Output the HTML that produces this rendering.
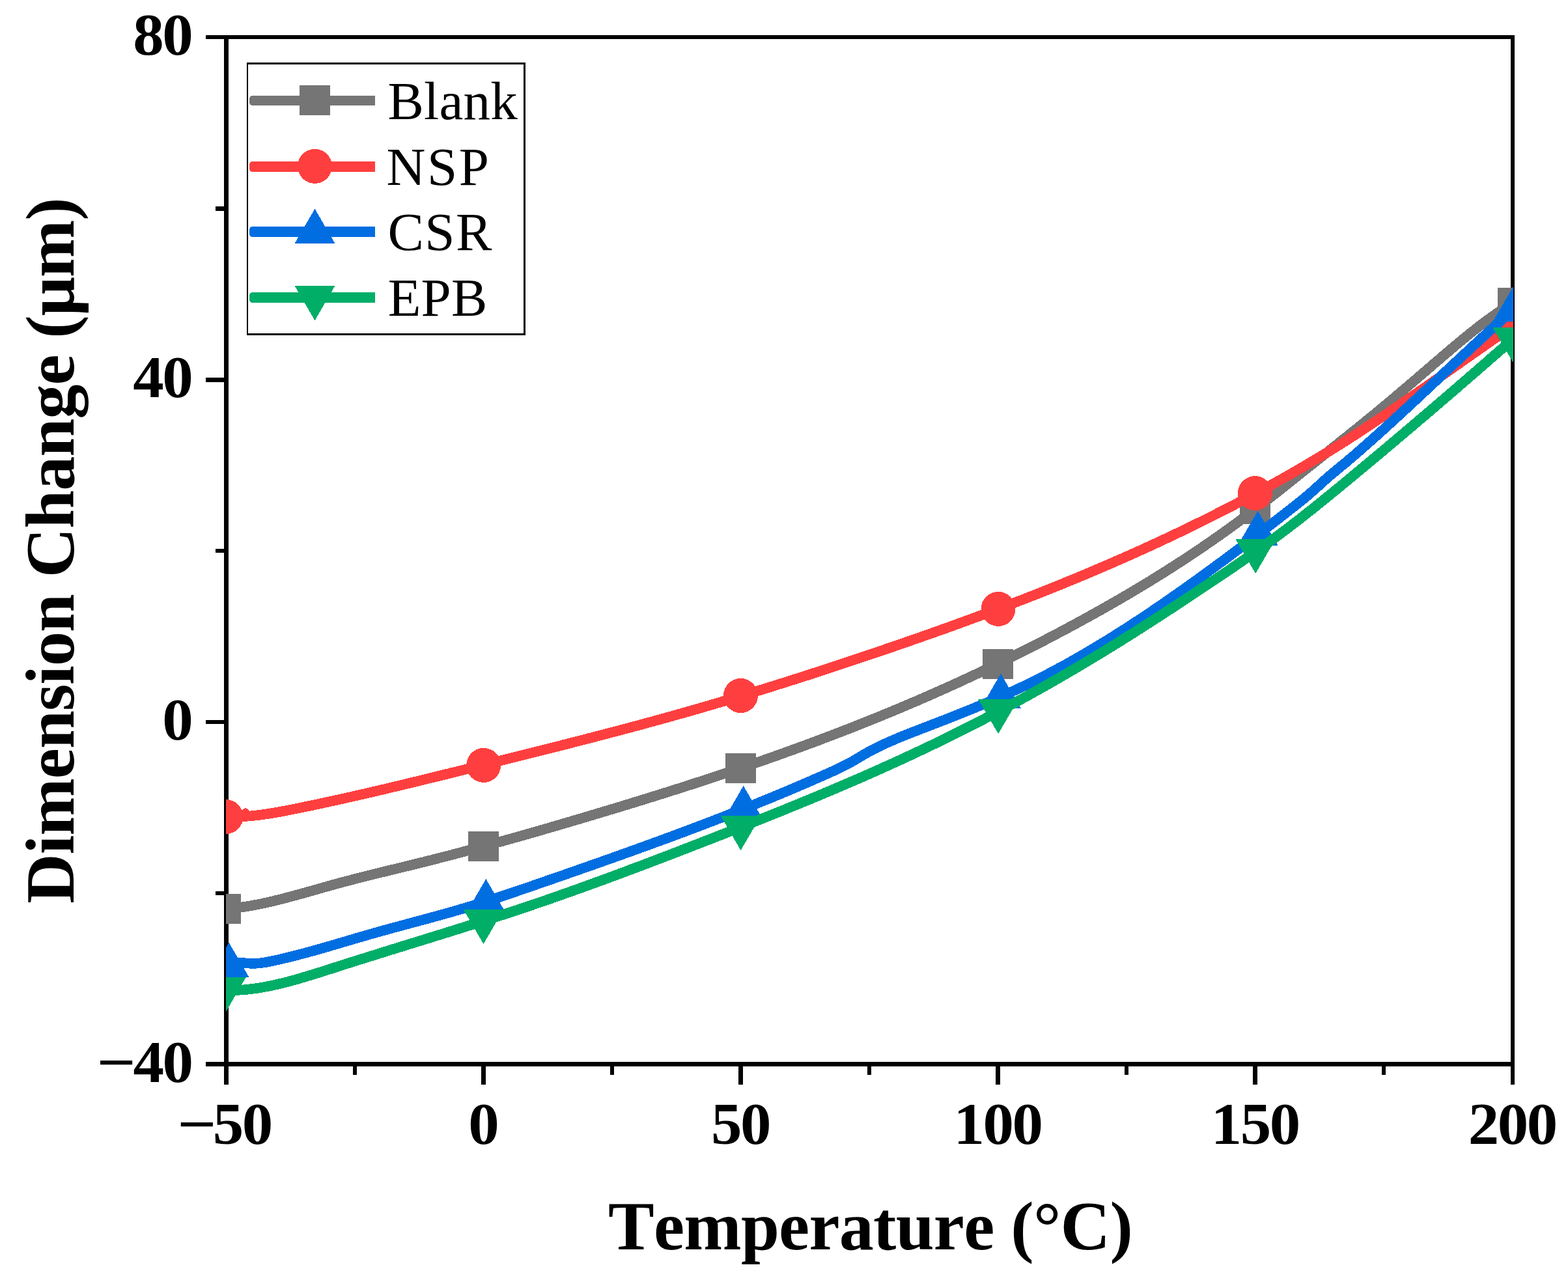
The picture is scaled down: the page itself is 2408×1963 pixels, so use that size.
<!DOCTYPE html>
<html lang="en"><head><meta charset="utf-8"><title>Dimension Change vs Temperature</title>
<style>
html,body{margin:0;padding:0;background:#fff;}
body{width:2408px;height:1963px;overflow:hidden;}
svg{display:block;}
text{font-family:"Liberation Serif","DejaVu Serif",serif;fill:#000;font-kerning:none;}
.tk{font-weight:bold;font-size:90px;}
.ti{font-weight:bold;font-size:106px;}
.lg{font-size:83px;}
</style></head><body>
<svg width="2408" height="1963" viewBox="0 0 2408 1963" shape-rendering="crispEdges">
<rect width="2408" height="1963" fill="#fff"/>
<defs><clipPath id="plot"><rect x="347.0" y="57.0" width="1977.0" height="1577.5"/></clipPath></defs>
<g fill="#000">
<path d="M344 54H2326V1638H344Z M351 60V1631H2320V60Z" fill-rule="evenodd"/>
<rect x="316" y="54" width="28" height="6"/>
<rect x="316" y="580" width="28" height="7"/>
<rect x="316" y="1106" width="28" height="6"/>
<rect x="316" y="1631" width="28" height="7"/>
<rect x="331" y="317" width="13" height="7"/>
<rect x="331" y="843" width="13" height="6"/>
<rect x="331" y="1369" width="13" height="6"/>
<rect x="344" y="1638" width="7" height="28"/>
<rect x="739" y="1638" width="7" height="28"/>
<rect x="1134" y="1638" width="7" height="28"/>
<rect x="1529" y="1638" width="7" height="28"/>
<rect x="1924" y="1638" width="7" height="28"/>
<rect x="2320" y="1638" width="6" height="28"/>
<rect x="542" y="1638" width="6" height="13"/>
<rect x="937" y="1638" width="6" height="13"/>
<rect x="1332" y="1638" width="6" height="13"/>
<rect x="1727" y="1638" width="6" height="13"/>
<rect x="2122" y="1638" width="6" height="13"/>
</g>
<g clip-path="url(#plot)">
<path d="M347.0 1396.2 L350.0 1395.9 L353.0 1395.7 L356.0 1395.4 L359.0 1395.0 L362.0 1394.7 L365.0 1394.3 L368.0 1393.9 L371.0 1393.5 L374.0 1393.0 L377.0 1392.6 L380.0 1392.1 L383.0 1391.6 L386.0 1391.1 L389.0 1390.5 L392.0 1390.0 L395.0 1389.4 L398.0 1388.8 L401.0 1388.2 L404.0 1387.5 L407.0 1386.9 L410.0 1386.2 L413.0 1385.6 L416.0 1384.9 L419.0 1384.2 L422.0 1383.4 L425.0 1382.7 L428.0 1382.0 L431.0 1381.2 L434.0 1380.5 L437.0 1379.7 L440.0 1378.9 L443.0 1378.1 L446.0 1377.3 L449.0 1376.5 L452.0 1375.7 L455.0 1374.9 L458.0 1374.1 L461.0 1373.3 L464.0 1372.4 L467.0 1371.6 L470.0 1370.7 L473.0 1369.9 L476.0 1369.1 L479.0 1368.2 L482.0 1367.4 L485.0 1366.5 L488.0 1365.7 L491.0 1364.8 L494.0 1364.0 L497.0 1363.1 L500.0 1362.3 L503.0 1361.4 L506.0 1360.6 L509.0 1359.7 L512.0 1358.9 L515.0 1358.1 L518.0 1357.3 L521.0 1356.5 L524.0 1355.6 L527.0 1354.8 L530.0 1354.0 L533.0 1353.2 L536.0 1352.5 L539.0 1351.7 L542.0 1350.9 L545.0 1350.1 L548.0 1349.3 L551.0 1348.6 L554.0 1347.8 L557.0 1347.1 L560.0 1346.3 L563.0 1345.5 L566.0 1344.8 L569.0 1344.0 L572.0 1343.3 L575.0 1342.6 L578.0 1341.8 L581.0 1341.1 L584.0 1340.3 L587.0 1339.6 L590.0 1338.9 L593.0 1338.1 L596.0 1337.4 L599.0 1336.7 L602.0 1335.9 L605.0 1335.2 L608.0 1334.5 L611.0 1333.7 L614.0 1333.0 L617.0 1332.3 L620.0 1331.6 L623.0 1330.8 L626.0 1330.1 L629.0 1329.4 L632.0 1328.6 L635.0 1327.9 L638.0 1327.1 L641.0 1326.4 L644.0 1325.7 L647.0 1324.9 L650.0 1324.2 L653.0 1323.4 L656.0 1322.7 L659.0 1321.9 L662.0 1321.2 L665.0 1320.4 L668.0 1319.6 L671.0 1318.9 L674.0 1318.1 L677.0 1317.3 L680.0 1316.6 L683.0 1315.8 L686.0 1315.0 L689.0 1314.2 L692.0 1313.5 L695.0 1312.7 L698.0 1311.9 L701.0 1311.1 L704.0 1310.3 L707.0 1309.5 L710.0 1308.7 L713.0 1307.9 L716.0 1307.1 L719.0 1306.3 L722.0 1305.5 L725.0 1304.7 L728.0 1303.9 L731.0 1303.1 L734.0 1302.3 L737.0 1301.5 L740.0 1300.7 L743.0 1299.9 L746.0 1299.0 L749.0 1298.2 L752.0 1297.4 L755.0 1296.6 L758.0 1295.7 L761.0 1294.9 L764.0 1294.1 L767.0 1293.3 L770.0 1292.4 L773.0 1291.6 L776.0 1290.8 L779.0 1289.9 L782.0 1289.1 L785.0 1288.2 L788.0 1287.4 L791.0 1286.5 L794.0 1285.7 L797.0 1284.9 L800.0 1284.0 L803.0 1283.2 L806.0 1282.3 L809.0 1281.4 L812.0 1280.6 L815.0 1279.7 L818.0 1278.9 L821.0 1278.0 L824.0 1277.2 L827.0 1276.3 L830.0 1275.4 L833.0 1274.6 L836.0 1273.7 L839.0 1272.8 L842.0 1272.0 L845.0 1271.1 L848.0 1270.2 L851.0 1269.3 L854.0 1268.5 L857.0 1267.6 L860.0 1266.7 L863.0 1265.8 L866.0 1264.9 L869.0 1264.1 L872.0 1263.2 L875.0 1262.3 L878.0 1261.4 L881.0 1260.5 L884.0 1259.6 L887.0 1258.8 L890.0 1257.9 L893.0 1257.0 L896.0 1256.1 L899.0 1255.2 L902.0 1254.3 L905.0 1253.4 L908.0 1252.5 L911.0 1251.6 L914.0 1250.7 L917.0 1249.8 L920.0 1248.9 L923.0 1248.0 L926.0 1247.1 L929.0 1246.2 L932.0 1245.3 L935.0 1244.4 L938.0 1243.5 L941.0 1242.6 L944.0 1241.7 L947.0 1240.8 L950.0 1239.9 L953.0 1238.9 L956.0 1238.0 L959.0 1237.1 L962.0 1236.2 L965.0 1235.3 L968.0 1234.4 L971.0 1233.5 L974.0 1232.5 L977.0 1231.6 L980.0 1230.7 L983.0 1229.8 L986.0 1228.8 L989.0 1227.9 L992.0 1227.0 L995.0 1226.0 L998.0 1225.1 L1001.0 1224.2 L1004.0 1223.2 L1007.0 1222.3 L1010.0 1221.4 L1013.0 1220.4 L1016.0 1219.5 L1019.0 1218.5 L1022.0 1217.6 L1025.0 1216.6 L1028.0 1215.7 L1031.0 1214.7 L1034.0 1213.8 L1037.0 1212.8 L1040.0 1211.9 L1043.0 1210.9 L1046.0 1210.0 L1049.0 1209.0 L1052.0 1208.0 L1055.0 1207.1 L1058.0 1206.1 L1061.0 1205.2 L1064.0 1204.2 L1067.0 1203.2 L1070.0 1202.2 L1073.0 1201.3 L1076.0 1200.3 L1079.0 1199.3 L1082.0 1198.3 L1085.0 1197.3 L1088.0 1196.4 L1091.0 1195.4 L1094.0 1194.4 L1097.0 1193.4 L1100.0 1192.4 L1103.0 1191.4 L1106.0 1190.4 L1109.0 1189.4 L1112.0 1188.4 L1115.0 1187.4 L1118.0 1186.4 L1121.0 1185.4 L1124.0 1184.4 L1127.0 1183.4 L1130.0 1182.3 L1133.0 1181.3 L1136.0 1180.3 L1139.0 1179.3 L1142.0 1178.3 L1145.0 1177.2 L1148.0 1176.2 L1151.0 1175.2 L1154.0 1174.2 L1157.0 1173.1 L1160.0 1172.1 L1163.0 1171.0 L1166.0 1170.0 L1169.0 1169.0 L1172.0 1167.9 L1175.0 1166.9 L1178.0 1165.8 L1181.0 1164.7 L1184.0 1163.7 L1187.0 1162.6 L1190.0 1161.6 L1193.0 1160.5 L1196.0 1159.4 L1199.0 1158.4 L1202.0 1157.3 L1205.0 1156.2 L1208.0 1155.1 L1211.0 1154.1 L1214.0 1153.0 L1217.0 1151.9 L1220.0 1150.8 L1223.0 1149.7 L1226.0 1148.6 L1229.0 1147.5 L1232.0 1146.4 L1235.0 1145.3 L1238.0 1144.2 L1241.0 1143.1 L1244.0 1142.0 L1247.0 1140.9 L1250.0 1139.8 L1253.0 1138.7 L1256.0 1137.5 L1259.0 1136.4 L1262.0 1135.3 L1265.0 1134.1 L1268.0 1133.0 L1271.0 1131.9 L1274.0 1130.7 L1277.0 1129.6 L1280.0 1128.4 L1283.0 1127.3 L1286.0 1126.1 L1289.0 1125.0 L1292.0 1123.8 L1295.0 1122.7 L1298.0 1121.5 L1301.0 1120.3 L1304.0 1119.2 L1307.0 1118.0 L1310.0 1116.8 L1313.0 1115.6 L1316.0 1114.5 L1319.0 1113.3 L1322.0 1112.1 L1325.0 1110.9 L1328.0 1109.7 L1331.0 1108.5 L1334.0 1107.3 L1337.0 1106.1 L1340.0 1104.9 L1343.0 1103.7 L1346.0 1102.4 L1349.0 1101.2 L1352.0 1100.0 L1355.0 1098.8 L1358.0 1097.5 L1361.0 1096.3 L1364.0 1095.1 L1367.0 1093.8 L1370.0 1092.6 L1373.0 1091.3 L1376.0 1090.1 L1379.0 1088.8 L1382.0 1087.6 L1385.0 1086.3 L1388.0 1085.0 L1391.0 1083.8 L1394.0 1082.5 L1397.0 1081.2 L1400.0 1079.9 L1403.0 1078.7 L1406.0 1077.4 L1409.0 1076.1 L1412.0 1074.8 L1415.0 1073.5 L1418.0 1072.2 L1421.0 1070.9 L1424.0 1069.6 L1427.0 1068.2 L1430.0 1066.9 L1433.0 1065.6 L1436.0 1064.3 L1439.0 1062.9 L1442.0 1061.6 L1445.0 1060.3 L1448.0 1058.9 L1451.0 1057.6 L1454.0 1056.2 L1457.0 1054.9 L1460.0 1053.5 L1463.0 1052.2 L1466.0 1050.8 L1469.0 1049.4 L1472.0 1048.1 L1475.0 1046.7 L1478.0 1045.3 L1481.0 1043.9 L1484.0 1042.5 L1487.0 1041.1 L1490.0 1039.7 L1493.0 1038.3 L1496.0 1036.9 L1499.0 1035.5 L1502.0 1034.1 L1505.0 1032.7 L1508.0 1031.3 L1511.0 1029.8 L1514.0 1028.4 L1517.0 1027.0 L1520.0 1025.5 L1523.0 1024.1 L1526.0 1022.6 L1529.0 1021.2 L1532.0 1019.7 L1535.0 1018.3 L1538.0 1016.8 L1541.0 1015.3 L1544.0 1013.9 L1547.0 1012.4 L1550.0 1010.9 L1553.0 1009.4 L1556.0 1007.9 L1559.0 1006.4 L1562.0 1004.9 L1565.0 1003.4 L1568.0 1001.9 L1571.0 1000.4 L1574.0 998.9 L1577.0 997.4 L1580.0 995.9 L1583.0 994.4 L1586.0 992.8 L1589.0 991.3 L1592.0 989.7 L1595.0 988.2 L1598.0 986.7 L1601.0 985.1 L1604.0 983.6 L1607.0 982.0 L1610.0 980.4 L1613.0 978.9 L1616.0 977.3 L1619.0 975.7 L1622.0 974.1 L1625.0 972.5 L1628.0 971.0 L1631.0 969.4 L1634.0 967.8 L1637.0 966.2 L1640.0 964.6 L1643.0 962.9 L1646.0 961.3 L1649.0 959.7 L1652.0 958.1 L1655.0 956.5 L1658.0 954.8 L1661.0 953.2 L1664.0 951.5 L1667.0 949.9 L1670.0 948.2 L1673.0 946.6 L1676.0 944.9 L1679.0 943.3 L1682.0 941.6 L1685.0 939.9 L1688.0 938.2 L1691.0 936.6 L1694.0 934.9 L1697.0 933.2 L1700.0 931.5 L1703.0 929.8 L1706.0 928.0 L1709.0 926.3 L1712.0 924.6 L1715.0 922.9 L1718.0 921.1 L1721.0 919.4 L1724.0 917.7 L1727.0 915.9 L1730.0 914.1 L1733.0 912.4 L1736.0 910.6 L1739.0 908.8 L1742.0 907.0 L1745.0 905.3 L1748.0 903.5 L1751.0 901.7 L1754.0 899.9 L1757.0 898.0 L1760.0 896.2 L1763.0 894.4 L1766.0 892.6 L1769.0 890.7 L1772.0 888.9 L1775.0 887.0 L1778.0 885.1 L1781.0 883.3 L1784.0 881.4 L1787.0 879.5 L1790.0 877.6 L1793.0 875.7 L1796.0 873.8 L1799.0 871.9 L1802.0 870.0 L1805.0 868.1 L1808.0 866.1 L1811.0 864.2 L1814.0 862.2 L1817.0 860.3 L1820.0 858.3 L1823.0 856.3 L1826.0 854.4 L1829.0 852.4 L1832.0 850.4 L1835.0 848.4 L1838.0 846.3 L1841.0 844.3 L1844.0 842.3 L1847.0 840.2 L1850.0 838.2 L1853.0 836.1 L1856.0 834.1 L1859.0 832.0 L1862.0 829.9 L1865.0 827.8 L1868.0 825.7 L1871.0 823.6 L1874.0 821.5 L1877.0 819.4 L1880.0 817.2 L1883.0 815.1 L1886.0 812.9 L1889.0 810.8 L1892.0 808.6 L1895.0 806.4 L1898.0 804.2 L1901.0 802.0 L1904.0 799.8 L1907.0 797.6 L1910.0 795.4 L1913.0 793.1 L1916.0 790.9 L1919.0 788.6 L1922.0 786.4 L1925.0 784.1 L1928.0 781.8 L1931.0 779.5 L1934.0 777.2 L1937.0 774.9 L1940.0 772.6 L1943.0 770.3 L1946.0 767.9 L1949.0 765.6 L1952.0 763.2 L1955.0 760.9 L1958.0 758.5 L1961.0 756.2 L1964.0 753.8 L1967.0 751.4 L1970.0 749.0 L1973.0 746.6 L1976.0 744.3 L1979.0 741.9 L1982.0 739.5 L1985.0 737.1 L1988.0 734.7 L1991.0 732.3 L1994.0 729.9 L1997.0 727.5 L2000.0 725.1 L2003.0 722.7 L2006.0 720.3 L2009.0 717.9 L2012.0 715.6 L2015.0 713.2 L2018.0 710.8 L2021.0 708.4 L2024.0 706.0 L2027.0 703.6 L2030.0 701.2 L2033.0 698.8 L2036.0 696.5 L2039.0 694.1 L2042.0 691.7 L2045.0 689.3 L2048.0 686.9 L2051.0 684.5 L2054.0 682.1 L2057.0 679.7 L2060.0 677.3 L2063.0 674.9 L2066.0 672.5 L2069.0 670.1 L2072.0 667.7 L2075.0 665.3 L2078.0 662.9 L2081.0 660.5 L2084.0 658.1 L2087.0 655.6 L2090.0 653.2 L2093.0 650.8 L2096.0 648.3 L2099.0 645.9 L2102.0 643.4 L2105.0 641.0 L2108.0 638.5 L2111.0 636.1 L2114.0 633.6 L2117.0 631.1 L2120.0 628.6 L2123.0 626.1 L2126.0 623.6 L2129.0 621.1 L2132.0 618.6 L2135.0 616.1 L2138.0 613.6 L2141.0 611.1 L2144.0 608.6 L2147.0 606.0 L2150.0 603.5 L2153.0 600.9 L2156.0 598.4 L2159.0 595.9 L2162.0 593.3 L2165.0 590.7 L2168.0 588.2 L2171.0 585.6 L2174.0 583.1 L2177.0 580.5 L2180.0 577.9 L2183.0 575.3 L2186.0 572.8 L2189.0 570.2 L2192.0 567.6 L2195.0 565.0 L2198.0 562.4 L2201.0 559.8 L2204.0 557.2 L2207.0 554.7 L2210.0 552.1 L2213.0 549.5 L2216.0 546.9 L2219.0 544.4 L2222.0 541.8 L2225.0 539.3 L2228.0 536.7 L2231.0 534.2 L2234.0 531.6 L2237.0 529.1 L2240.0 526.6 L2243.0 524.1 L2246.0 521.7 L2249.0 519.2 L2252.0 516.7 L2255.0 514.3 L2258.0 511.9 L2261.0 509.5 L2264.0 507.1 L2267.0 504.8 L2270.0 502.4 L2273.0 500.1 L2276.0 497.8 L2279.0 495.5 L2282.0 493.3 L2285.0 491.1 L2288.0 488.9 L2291.0 486.7 L2294.0 484.6 L2297.0 482.5 L2300.0 480.4 L2303.0 478.3 L2306.0 476.3 L2309.0 474.3 L2312.0 472.4 L2315.0 470.4 L2318.0 468.6 L2321.0 466.7 L2323.5 465.2" fill="none" stroke="#757575" stroke-width="15.6" stroke-linejoin="round" stroke-linecap="butt"/>
<g fill="#757575"><rect x="323" y="1373" width="47" height="46"/><rect x="719" y="1277" width="47" height="46"/><rect x="1114" y="1157" width="47" height="46"/><rect x="1509" y="997" width="47" height="46"/><rect x="1904" y="759" width="47" height="46"/><rect x="2300" y="442" width="47" height="46"/></g>
<path d="M347.0 1254.5 L350.0 1254.6 L353.0 1254.6 L356.0 1254.7 L359.0 1254.7 L362.0 1254.6 L365.0 1254.5 L368.0 1254.4 L371.0 1254.3 L374.0 1254.1 L377.0 1254.0 L380.0 1253.7 L383.0 1253.5 L386.0 1253.2 L389.0 1252.9 L392.0 1252.6 L395.0 1252.3 L398.0 1251.9 L401.0 1251.5 L404.0 1251.1 L407.0 1250.7 L410.0 1250.2 L413.0 1249.8 L416.0 1249.3 L419.0 1248.8 L422.0 1248.3 L425.0 1247.8 L428.0 1247.3 L431.0 1246.7 L434.0 1246.1 L437.0 1245.6 L440.0 1245.0 L443.0 1244.4 L446.0 1243.8 L449.0 1243.2 L452.0 1242.6 L455.0 1242.0 L458.0 1241.4 L461.0 1240.8 L464.0 1240.2 L467.0 1239.6 L470.0 1238.9 L473.0 1238.3 L476.0 1237.7 L479.0 1237.1 L482.0 1236.4 L485.0 1235.8 L488.0 1235.2 L491.0 1234.5 L494.0 1233.9 L497.0 1233.2 L500.0 1232.6 L503.0 1231.9 L506.0 1231.3 L509.0 1230.6 L512.0 1230.0 L515.0 1229.3 L518.0 1228.7 L521.0 1228.0 L524.0 1227.3 L527.0 1226.7 L530.0 1226.0 L533.0 1225.3 L536.0 1224.6 L539.0 1224.0 L542.0 1223.3 L545.0 1222.6 L548.0 1221.9 L551.0 1221.2 L554.0 1220.6 L557.0 1219.9 L560.0 1219.2 L563.0 1218.5 L566.0 1217.8 L569.0 1217.1 L572.0 1216.4 L575.0 1215.7 L578.0 1215.0 L581.0 1214.3 L584.0 1213.6 L587.0 1212.9 L590.0 1212.2 L593.0 1211.5 L596.0 1210.8 L599.0 1210.0 L602.0 1209.3 L605.0 1208.6 L608.0 1207.9 L611.0 1207.2 L614.0 1206.5 L617.0 1205.8 L620.0 1205.0 L623.0 1204.3 L626.0 1203.6 L629.0 1202.9 L632.0 1202.1 L635.0 1201.4 L638.0 1200.7 L641.0 1200.0 L644.0 1199.2 L647.0 1198.5 L650.0 1197.8 L653.0 1197.0 L656.0 1196.3 L659.0 1195.6 L662.0 1194.8 L665.0 1194.1 L668.0 1193.4 L671.0 1192.6 L674.0 1191.9 L677.0 1191.1 L680.0 1190.4 L683.0 1189.7 L686.0 1188.9 L689.0 1188.2 L692.0 1187.4 L695.0 1186.7 L698.0 1186.0 L701.0 1185.2 L704.0 1184.5 L707.0 1183.7 L710.0 1183.0 L713.0 1182.2 L716.0 1181.5 L719.0 1180.7 L722.0 1180.0 L725.0 1179.2 L728.0 1178.5 L731.0 1177.8 L734.0 1177.0 L737.0 1176.3 L740.0 1175.5 L743.0 1174.8 L746.0 1174.0 L749.0 1173.3 L752.0 1172.5 L755.0 1171.8 L758.0 1171.0 L761.0 1170.3 L764.0 1169.5 L767.0 1168.8 L770.0 1168.1 L773.0 1167.3 L776.0 1166.6 L779.0 1165.8 L782.0 1165.1 L785.0 1164.3 L788.0 1163.6 L791.0 1162.8 L794.0 1162.1 L797.0 1161.3 L800.0 1160.6 L803.0 1159.8 L806.0 1159.1 L809.0 1158.3 L812.0 1157.6 L815.0 1156.8 L818.0 1156.1 L821.0 1155.3 L824.0 1154.6 L827.0 1153.8 L830.0 1153.0 L833.0 1152.3 L836.0 1151.5 L839.0 1150.8 L842.0 1150.0 L845.0 1149.3 L848.0 1148.5 L851.0 1147.7 L854.0 1147.0 L857.0 1146.2 L860.0 1145.5 L863.0 1144.7 L866.0 1143.9 L869.0 1143.2 L872.0 1142.4 L875.0 1141.6 L878.0 1140.9 L881.0 1140.1 L884.0 1139.3 L887.0 1138.6 L890.0 1137.8 L893.0 1137.0 L896.0 1136.3 L899.0 1135.5 L902.0 1134.7 L905.0 1133.9 L908.0 1133.2 L911.0 1132.4 L914.0 1131.6 L917.0 1130.8 L920.0 1130.1 L923.0 1129.3 L926.0 1128.5 L929.0 1127.7 L932.0 1126.9 L935.0 1126.1 L938.0 1125.3 L941.0 1124.6 L944.0 1123.8 L947.0 1123.0 L950.0 1122.2 L953.0 1121.4 L956.0 1120.6 L959.0 1119.8 L962.0 1119.0 L965.0 1118.2 L968.0 1117.4 L971.0 1116.6 L974.0 1115.8 L977.0 1115.0 L980.0 1114.2 L983.0 1113.4 L986.0 1112.6 L989.0 1111.8 L992.0 1110.9 L995.0 1110.1 L998.0 1109.3 L1001.0 1108.5 L1004.0 1107.7 L1007.0 1106.8 L1010.0 1106.0 L1013.0 1105.2 L1016.0 1104.4 L1019.0 1103.5 L1022.0 1102.7 L1025.0 1101.9 L1028.0 1101.0 L1031.0 1100.2 L1034.0 1099.4 L1037.0 1098.5 L1040.0 1097.7 L1043.0 1096.8 L1046.0 1096.0 L1049.0 1095.2 L1052.0 1094.3 L1055.0 1093.5 L1058.0 1092.6 L1061.0 1091.7 L1064.0 1090.9 L1067.0 1090.0 L1070.0 1089.2 L1073.0 1088.3 L1076.0 1087.4 L1079.0 1086.6 L1082.0 1085.7 L1085.0 1084.8 L1088.0 1084.0 L1091.0 1083.1 L1094.0 1082.2 L1097.0 1081.3 L1100.0 1080.4 L1103.0 1079.5 L1106.0 1078.7 L1109.0 1077.8 L1112.0 1076.9 L1115.0 1076.0 L1118.0 1075.1 L1121.0 1074.2 L1124.0 1073.3 L1127.0 1072.4 L1130.0 1071.5 L1133.0 1070.6 L1136.0 1069.7 L1139.0 1068.8 L1142.0 1067.9 L1145.0 1066.9 L1148.0 1066.0 L1151.0 1065.1 L1154.0 1064.2 L1157.0 1063.3 L1160.0 1062.4 L1163.0 1061.4 L1166.0 1060.5 L1169.0 1059.6 L1172.0 1058.6 L1175.0 1057.7 L1178.0 1056.8 L1181.0 1055.8 L1184.0 1054.9 L1187.0 1054.0 L1190.0 1053.0 L1193.0 1052.1 L1196.0 1051.1 L1199.0 1050.2 L1202.0 1049.3 L1205.0 1048.3 L1208.0 1047.4 L1211.0 1046.4 L1214.0 1045.4 L1217.0 1044.5 L1220.0 1043.5 L1223.0 1042.6 L1226.0 1041.6 L1229.0 1040.6 L1232.0 1039.7 L1235.0 1038.7 L1238.0 1037.8 L1241.0 1036.8 L1244.0 1035.8 L1247.0 1034.8 L1250.0 1033.9 L1253.0 1032.9 L1256.0 1031.9 L1259.0 1030.9 L1262.0 1030.0 L1265.0 1029.0 L1268.0 1028.0 L1271.0 1027.0 L1274.0 1026.0 L1277.0 1025.0 L1280.0 1024.1 L1283.0 1023.1 L1286.0 1022.1 L1289.0 1021.1 L1292.0 1020.1 L1295.0 1019.1 L1298.0 1018.1 L1301.0 1017.1 L1304.0 1016.1 L1307.0 1015.1 L1310.0 1014.1 L1313.0 1013.1 L1316.0 1012.1 L1319.0 1011.1 L1322.0 1010.1 L1325.0 1009.1 L1328.0 1008.1 L1331.0 1007.0 L1334.0 1006.0 L1337.0 1005.0 L1340.0 1004.0 L1343.0 1003.0 L1346.0 1002.0 L1349.0 1001.0 L1352.0 999.9 L1355.0 998.9 L1358.0 997.9 L1361.0 996.9 L1364.0 995.8 L1367.0 994.8 L1370.0 993.8 L1373.0 992.8 L1376.0 991.7 L1379.0 990.7 L1382.0 989.7 L1385.0 988.6 L1388.0 987.6 L1391.0 986.6 L1394.0 985.5 L1397.0 984.5 L1400.0 983.4 L1403.0 982.4 L1406.0 981.3 L1409.0 980.3 L1412.0 979.3 L1415.0 978.2 L1418.0 977.1 L1421.0 976.1 L1424.0 975.0 L1427.0 974.0 L1430.0 972.9 L1433.0 971.9 L1436.0 970.8 L1439.0 969.7 L1442.0 968.7 L1445.0 967.6 L1448.0 966.5 L1451.0 965.5 L1454.0 964.4 L1457.0 963.3 L1460.0 962.2 L1463.0 961.2 L1466.0 960.1 L1469.0 959.0 L1472.0 957.9 L1475.0 956.8 L1478.0 955.7 L1481.0 954.6 L1484.0 953.5 L1487.0 952.4 L1490.0 951.3 L1493.0 950.2 L1496.0 949.1 L1499.0 948.0 L1502.0 946.9 L1505.0 945.8 L1508.0 944.7 L1511.0 943.6 L1514.0 942.5 L1517.0 941.4 L1520.0 940.2 L1523.0 939.1 L1526.0 938.0 L1529.0 936.9 L1532.0 935.7 L1535.0 934.6 L1538.0 933.5 L1541.0 932.3 L1544.0 931.2 L1547.0 930.1 L1550.0 928.9 L1553.0 927.8 L1556.0 926.6 L1559.0 925.5 L1562.0 924.3 L1565.0 923.1 L1568.0 922.0 L1571.0 920.8 L1574.0 919.7 L1577.0 918.5 L1580.0 917.3 L1583.0 916.1 L1586.0 915.0 L1589.0 913.8 L1592.0 912.6 L1595.0 911.4 L1598.0 910.2 L1601.0 909.0 L1604.0 907.9 L1607.0 906.7 L1610.0 905.5 L1613.0 904.3 L1616.0 903.0 L1619.0 901.8 L1622.0 900.6 L1625.0 899.4 L1628.0 898.2 L1631.0 897.0 L1634.0 895.8 L1637.0 894.5 L1640.0 893.3 L1643.0 892.1 L1646.0 890.8 L1649.0 889.6 L1652.0 888.4 L1655.0 887.1 L1658.0 885.9 L1661.0 884.6 L1664.0 883.4 L1667.0 882.1 L1670.0 880.8 L1673.0 879.6 L1676.0 878.3 L1679.0 877.0 L1682.0 875.8 L1685.0 874.5 L1688.0 873.2 L1691.0 871.9 L1694.0 870.6 L1697.0 869.3 L1700.0 868.0 L1703.0 866.8 L1706.0 865.5 L1709.0 864.1 L1712.0 862.8 L1715.0 861.5 L1718.0 860.2 L1721.0 858.9 L1724.0 857.6 L1727.0 856.2 L1730.0 854.9 L1733.0 853.6 L1736.0 852.2 L1739.0 850.9 L1742.0 849.6 L1745.0 848.2 L1748.0 846.9 L1751.0 845.5 L1754.0 844.1 L1757.0 842.8 L1760.0 841.4 L1763.0 840.0 L1766.0 838.7 L1769.0 837.3 L1772.0 835.9 L1775.0 834.5 L1778.0 833.1 L1781.0 831.7 L1784.0 830.3 L1787.0 828.9 L1790.0 827.5 L1793.0 826.1 L1796.0 824.7 L1799.0 823.3 L1802.0 821.8 L1805.0 820.4 L1808.0 819.0 L1811.0 817.6 L1814.0 816.1 L1817.0 814.7 L1820.0 813.2 L1823.0 811.8 L1826.0 810.3 L1829.0 808.8 L1832.0 807.4 L1835.0 805.9 L1838.0 804.4 L1841.0 803.0 L1844.0 801.5 L1847.0 800.0 L1850.0 798.5 L1853.0 797.0 L1856.0 795.5 L1859.0 794.0 L1862.0 792.5 L1865.0 791.0 L1868.0 789.5 L1871.0 787.9 L1874.0 786.4 L1877.0 784.9 L1880.0 783.3 L1883.0 781.8 L1886.0 780.3 L1889.0 778.7 L1892.0 777.1 L1895.0 775.6 L1898.0 774.0 L1901.0 772.5 L1904.0 770.9 L1907.0 769.3 L1910.0 767.7 L1913.0 766.1 L1916.0 764.5 L1919.0 762.9 L1922.0 761.3 L1925.0 759.7 L1928.0 758.1 L1931.0 756.5 L1934.0 754.9 L1937.0 753.2 L1940.0 751.6 L1943.0 750.0 L1946.0 748.3 L1949.0 746.7 L1952.0 745.0 L1955.0 743.4 L1958.0 741.7 L1961.0 740.0 L1964.0 738.4 L1967.0 736.7 L1970.0 735.0 L1973.0 733.3 L1976.0 731.6 L1979.0 729.9 L1982.0 728.2 L1985.0 726.5 L1988.0 724.7 L1991.0 723.0 L1994.0 721.3 L1997.0 719.5 L2000.0 717.8 L2003.0 716.0 L2006.0 714.3 L2009.0 712.5 L2012.0 710.7 L2015.0 708.9 L2018.0 707.1 L2021.0 705.3 L2024.0 703.5 L2027.0 701.7 L2030.0 699.9 L2033.0 698.1 L2036.0 696.3 L2039.0 694.4 L2042.0 692.6 L2045.0 690.7 L2048.0 688.8 L2051.0 687.0 L2054.0 685.1 L2057.0 683.2 L2060.0 681.3 L2063.0 679.4 L2066.0 677.5 L2069.0 675.6 L2072.0 673.7 L2075.0 671.7 L2078.0 669.8 L2081.0 667.9 L2084.0 665.9 L2087.0 663.9 L2090.0 662.0 L2093.0 660.0 L2096.0 658.0 L2099.0 656.0 L2102.0 654.0 L2105.0 652.1 L2108.0 650.1 L2111.0 648.0 L2114.0 646.0 L2117.0 644.0 L2120.0 642.0 L2123.0 640.0 L2126.0 637.9 L2129.0 635.9 L2132.0 633.9 L2135.0 631.8 L2138.0 629.8 L2141.0 627.7 L2144.0 625.7 L2147.0 623.6 L2150.0 621.6 L2153.0 619.5 L2156.0 617.4 L2159.0 615.4 L2162.0 613.3 L2165.0 611.2 L2168.0 609.1 L2171.0 607.1 L2174.0 605.0 L2177.0 602.9 L2180.0 600.8 L2183.0 598.7 L2186.0 596.6 L2189.0 594.6 L2192.0 592.5 L2195.0 590.4 L2198.0 588.3 L2201.0 586.2 L2204.0 584.1 L2207.0 582.0 L2210.0 579.9 L2213.0 577.8 L2216.0 575.7 L2219.0 573.6 L2222.0 571.5 L2225.0 569.4 L2228.0 567.3 L2231.0 565.2 L2234.0 563.1 L2237.0 561.0 L2240.0 558.9 L2243.0 556.7 L2246.0 554.6 L2249.0 552.5 L2252.0 550.4 L2255.0 548.3 L2258.0 546.2 L2261.0 544.1 L2264.0 542.0 L2267.0 539.9 L2270.0 537.8 L2273.0 535.7 L2276.0 533.6 L2279.0 531.5 L2282.0 529.4 L2285.0 527.3 L2288.0 525.2 L2291.0 523.1 L2294.0 521.0 L2297.0 518.9 L2300.0 516.9 L2303.0 514.8 L2306.0 512.7 L2309.0 510.6 L2312.0 508.5 L2315.0 506.4 L2318.0 504.4 L2321.0 502.3 L2323.5 500.6" fill="none" stroke="#FF3F3F" stroke-width="15.6" stroke-linejoin="round" stroke-linecap="butt"/>
<g fill="#FF3F3F"><ellipse cx="377" cy="1251.6" rx="7.5" ry="10.3"/><circle cx="347.0" cy="1254.5" r="26.5"/><circle cx="742.7" cy="1175.4" r="26.5"/><circle cx="1137.5" cy="1068.5" r="26.5"/><circle cx="1533.0" cy="935.4" r="26.5"/><circle cx="1927.4" cy="757.6" r="26.5"/><circle cx="2323.5" cy="500.5" r="26.5"/></g>
<path d="M351.5 1482.6 L354.5 1481.2 L357.5 1480.2 L360.5 1479.6 L363.5 1479.2 L366.5 1479.0 L369.5 1478.9 L372.5 1479.0 L375.5 1479.2 L378.5 1479.4 L381.5 1479.6 L384.5 1479.8 L387.5 1479.9 L390.5 1479.9 L393.5 1479.7 L396.5 1479.5 L399.5 1479.3 L402.5 1478.9 L405.5 1478.5 L408.5 1478.0 L411.5 1477.4 L414.5 1476.9 L417.5 1476.2 L420.5 1475.6 L423.5 1474.9 L426.5 1474.3 L429.5 1473.6 L432.5 1472.9 L435.5 1472.2 L438.5 1471.5 L441.5 1470.8 L444.5 1470.0 L447.5 1469.3 L450.5 1468.5 L453.5 1467.8 L456.5 1467.0 L459.5 1466.2 L462.5 1465.4 L465.5 1464.6 L468.5 1463.8 L471.5 1463.0 L474.5 1462.2 L477.5 1461.4 L480.5 1460.5 L483.5 1459.7 L486.5 1458.8 L489.5 1458.0 L492.5 1457.1 L495.5 1456.3 L498.5 1455.4 L501.5 1454.6 L504.5 1453.7 L507.5 1452.8 L510.5 1451.9 L513.5 1451.1 L516.5 1450.2 L519.5 1449.3 L522.5 1448.4 L525.5 1447.5 L528.5 1446.6 L531.5 1445.8 L534.5 1444.9 L537.5 1444.0 L540.5 1443.1 L543.5 1442.2 L546.5 1441.3 L549.5 1440.5 L552.5 1439.6 L555.5 1438.7 L558.5 1437.8 L561.5 1437.0 L564.5 1436.1 L567.5 1435.2 L570.5 1434.4 L573.5 1433.5 L576.5 1432.7 L579.5 1431.8 L582.5 1431.0 L585.5 1430.2 L588.5 1429.3 L591.5 1428.5 L594.5 1427.7 L597.5 1426.8 L600.5 1426.0 L603.5 1425.2 L606.5 1424.4 L609.5 1423.6 L612.5 1422.8 L615.5 1422.0 L618.5 1421.2 L621.5 1420.4 L624.5 1419.5 L627.5 1418.7 L630.5 1417.9 L633.5 1417.1 L636.5 1416.3 L639.5 1415.5 L642.5 1414.7 L645.5 1413.9 L648.5 1413.1 L651.5 1412.3 L654.5 1411.5 L657.5 1410.7 L660.5 1409.9 L663.5 1409.0 L666.5 1408.2 L669.5 1407.4 L672.5 1406.6 L675.5 1405.7 L678.5 1404.9 L681.5 1404.1 L684.5 1403.2 L687.5 1402.4 L690.5 1401.5 L693.5 1400.7 L696.5 1399.8 L699.5 1398.9 L702.5 1398.1 L705.5 1397.2 L708.5 1396.3 L711.5 1395.4 L714.5 1394.5 L717.5 1393.6 L720.5 1392.7 L723.5 1391.8 L726.5 1390.8 L729.5 1389.9 L732.5 1389.0 L735.5 1388.0 L738.5 1387.1 L741.5 1386.1 L744.5 1385.2 L747.5 1384.2 L750.5 1383.2 L753.5 1382.3 L756.5 1381.3 L759.5 1380.3 L762.5 1379.3 L765.5 1378.3 L768.5 1377.3 L771.5 1376.3 L774.5 1375.3 L777.5 1374.3 L780.5 1373.3 L783.5 1372.3 L786.5 1371.3 L789.5 1370.3 L792.5 1369.3 L795.5 1368.3 L798.5 1367.2 L801.5 1366.2 L804.5 1365.2 L807.5 1364.2 L810.5 1363.1 L813.5 1362.1 L816.5 1361.1 L819.5 1360.0 L822.5 1359.0 L825.5 1357.9 L828.5 1356.9 L831.5 1355.9 L834.5 1354.8 L837.5 1353.8 L840.5 1352.7 L843.5 1351.7 L846.5 1350.7 L849.5 1349.6 L852.5 1348.6 L855.5 1347.5 L858.5 1346.5 L861.5 1345.4 L864.5 1344.4 L867.5 1343.4 L870.5 1342.3 L873.5 1341.3 L876.5 1340.2 L879.5 1339.2 L882.5 1338.1 L885.5 1337.1 L888.5 1336.0 L891.5 1335.0 L894.5 1333.9 L897.5 1332.9 L900.5 1331.8 L903.5 1330.8 L906.5 1329.7 L909.5 1328.7 L912.5 1327.6 L915.5 1326.5 L918.5 1325.5 L921.5 1324.4 L924.5 1323.4 L927.5 1322.3 L930.5 1321.2 L933.5 1320.2 L936.5 1319.1 L939.5 1318.1 L942.5 1317.0 L945.5 1315.9 L948.5 1314.9 L951.5 1313.8 L954.5 1312.7 L957.5 1311.6 L960.5 1310.6 L963.5 1309.5 L966.5 1308.4 L969.5 1307.3 L972.5 1306.3 L975.5 1305.2 L978.5 1304.1 L981.5 1303.0 L984.5 1301.9 L987.5 1300.9 L990.5 1299.8 L993.5 1298.7 L996.5 1297.6 L999.5 1296.5 L1002.5 1295.4 L1005.5 1294.3 L1008.5 1293.2 L1011.5 1292.1 L1014.5 1291.0 L1017.5 1289.9 L1020.5 1288.8 L1023.5 1287.7 L1026.5 1286.6 L1029.5 1285.5 L1032.5 1284.4 L1035.5 1283.3 L1038.5 1282.2 L1041.5 1281.0 L1044.5 1279.9 L1047.5 1278.8 L1050.5 1277.7 L1053.5 1276.6 L1056.5 1275.4 L1059.5 1274.3 L1062.5 1273.2 L1065.5 1272.0 L1068.5 1270.9 L1071.5 1269.8 L1074.5 1268.6 L1077.5 1267.5 L1080.5 1266.4 L1083.5 1265.2 L1086.5 1264.1 L1089.5 1262.9 L1092.5 1261.8 L1095.5 1260.6 L1098.5 1259.4 L1101.5 1258.3 L1104.5 1257.1 L1107.5 1256.0 L1110.5 1254.8 L1113.5 1253.6 L1116.5 1252.5 L1119.5 1251.3 L1122.5 1250.1 L1125.5 1248.9 L1128.5 1247.7 L1131.5 1246.6 L1134.5 1245.4 L1137.5 1244.2 L1140.5 1243.0 L1143.5 1241.8 L1146.5 1240.6 L1149.5 1239.4 L1152.5 1238.2 L1155.5 1237.0 L1158.5 1235.8 L1161.5 1234.6 L1164.5 1233.3 L1167.5 1232.1 L1170.5 1230.9 L1173.5 1229.7 L1176.5 1228.5 L1179.5 1227.2 L1182.5 1226.0 L1185.5 1224.8 L1188.5 1223.5 L1191.5 1222.3 L1194.5 1221.0 L1197.5 1219.8 L1200.5 1218.5 L1203.5 1217.3 L1206.5 1216.0 L1209.5 1214.8 L1212.5 1213.5 L1215.5 1212.2 L1218.5 1210.9 L1221.5 1209.7 L1224.5 1208.4 L1227.5 1207.1 L1230.5 1205.8 L1233.5 1204.5 L1236.5 1203.2 L1239.5 1202.0 L1242.5 1200.7 L1245.5 1199.4 L1248.5 1198.0 L1251.5 1196.7 L1254.5 1195.4 L1257.5 1194.1 L1260.5 1192.8 L1263.5 1191.5 L1266.5 1190.1 L1269.5 1188.8 L1272.5 1187.5 L1275.5 1186.1 L1278.5 1184.8 L1281.5 1183.4 L1284.5 1182.0 L1287.5 1180.6 L1290.5 1179.1 L1293.5 1177.7 L1296.5 1176.2 L1299.5 1174.6 L1302.5 1173.0 L1305.5 1171.4 L1308.5 1169.8 L1311.5 1168.1 L1314.5 1166.3 L1317.5 1164.5 L1320.5 1162.7 L1323.5 1160.9 L1326.5 1159.2 L1329.5 1157.4 L1332.5 1155.7 L1335.5 1154.1 L1338.5 1152.5 L1341.5 1150.9 L1344.5 1149.4 L1347.5 1147.9 L1350.5 1146.4 L1353.5 1145.0 L1356.5 1143.6 L1359.5 1142.2 L1362.5 1140.8 L1365.5 1139.5 L1368.5 1138.2 L1371.5 1136.9 L1374.5 1135.6 L1377.5 1134.3 L1380.5 1133.1 L1383.5 1131.9 L1386.5 1130.7 L1389.5 1129.4 L1392.5 1128.3 L1395.5 1127.1 L1398.5 1125.9 L1401.5 1124.7 L1404.5 1123.5 L1407.5 1122.4 L1410.5 1121.2 L1413.5 1120.0 L1416.5 1118.9 L1419.5 1117.7 L1422.5 1116.6 L1425.5 1115.4 L1428.5 1114.2 L1431.5 1113.1 L1434.5 1111.9 L1437.5 1110.8 L1440.5 1109.6 L1443.5 1108.4 L1446.5 1107.3 L1449.5 1106.1 L1452.5 1105.0 L1455.5 1103.8 L1458.5 1102.6 L1461.5 1101.4 L1464.5 1100.3 L1467.5 1099.1 L1470.5 1097.9 L1473.5 1096.7 L1476.5 1095.5 L1479.5 1094.3 L1482.5 1093.1 L1485.5 1091.9 L1488.5 1090.7 L1491.5 1089.4 L1494.5 1088.2 L1497.5 1087.0 L1500.5 1085.7 L1503.5 1084.5 L1506.5 1083.2 L1509.5 1082.0 L1512.5 1080.7 L1515.5 1079.4 L1518.5 1078.2 L1521.5 1076.9 L1524.5 1075.6 L1527.5 1074.3 L1530.5 1073.0 L1533.5 1071.7 L1536.5 1070.3 L1539.5 1069.0 L1542.5 1067.7 L1545.5 1066.3 L1548.5 1065.0 L1551.5 1063.6 L1554.5 1062.2 L1557.5 1060.8 L1560.5 1059.4 L1563.5 1058.0 L1566.5 1056.6 L1569.5 1055.2 L1572.5 1053.8 L1575.5 1052.3 L1578.5 1050.9 L1581.5 1049.4 L1584.5 1048.0 L1587.5 1046.5 L1590.5 1045.0 L1593.5 1043.5 L1596.5 1042.0 L1599.5 1040.4 L1602.5 1038.9 L1605.5 1037.4 L1608.5 1035.8 L1611.5 1034.2 L1614.5 1032.7 L1617.5 1031.1 L1620.5 1029.5 L1623.5 1027.9 L1626.5 1026.2 L1629.5 1024.6 L1632.5 1023.0 L1635.5 1021.3 L1638.5 1019.7 L1641.5 1018.0 L1644.5 1016.3 L1647.5 1014.6 L1650.5 1012.9 L1653.5 1011.2 L1656.5 1009.5 L1659.5 1007.8 L1662.5 1006.0 L1665.5 1004.3 L1668.5 1002.5 L1671.5 1000.7 L1674.5 999.0 L1677.5 997.2 L1680.5 995.4 L1683.5 993.6 L1686.5 991.8 L1689.5 990.0 L1692.5 988.1 L1695.5 986.3 L1698.5 984.5 L1701.5 982.6 L1704.5 980.8 L1707.5 978.9 L1710.5 977.0 L1713.5 975.1 L1716.5 973.2 L1719.5 971.3 L1722.5 969.4 L1725.5 967.5 L1728.5 965.6 L1731.5 963.6 L1734.5 961.7 L1737.5 959.8 L1740.5 957.8 L1743.5 955.8 L1746.5 953.9 L1749.5 951.9 L1752.5 949.9 L1755.5 947.9 L1758.5 945.9 L1761.5 943.9 L1764.5 941.9 L1767.5 939.9 L1770.5 937.9 L1773.5 935.8 L1776.5 933.8 L1779.5 931.7 L1782.5 929.7 L1785.5 927.6 L1788.5 925.6 L1791.5 923.5 L1794.5 921.4 L1797.5 919.3 L1800.5 917.2 L1803.5 915.2 L1806.5 913.1 L1809.5 910.9 L1812.5 908.8 L1815.5 906.7 L1818.5 904.6 L1821.5 902.5 L1824.5 900.3 L1827.5 898.2 L1830.5 896.0 L1833.5 893.9 L1836.5 891.7 L1839.5 889.6 L1842.5 887.4 L1845.5 885.2 L1848.5 883.1 L1851.5 880.9 L1854.5 878.7 L1857.5 876.5 L1860.5 874.3 L1863.5 872.1 L1866.5 869.9 L1869.5 867.7 L1872.5 865.5 L1875.5 863.3 L1878.5 861.1 L1881.5 858.8 L1884.5 856.6 L1887.5 854.4 L1890.5 852.1 L1893.5 849.9 L1896.5 847.7 L1899.5 845.4 L1902.5 843.2 L1905.5 840.9 L1908.5 838.6 L1911.5 836.4 L1914.5 834.1 L1917.5 831.8 L1920.5 829.6 L1923.5 827.3 L1926.5 825.0 L1929.5 822.7 L1932.5 820.4 L1935.5 818.1 L1938.5 815.8 L1941.5 813.5 L1944.5 811.2 L1947.5 808.9 L1950.5 806.6 L1953.5 804.3 L1956.5 802.0 L1959.5 799.6 L1962.5 797.3 L1965.5 795.0 L1968.5 792.7 L1971.5 790.3 L1974.5 788.0 L1977.5 785.6 L1980.5 783.3 L1983.5 780.9 L1986.5 778.6 L1989.5 776.2 L1992.5 773.8 L1995.5 771.4 L1998.5 769.0 L2001.5 766.6 L2004.5 764.1 L2007.5 761.6 L2010.5 759.0 L2013.5 756.4 L2016.5 753.8 L2019.5 751.1 L2022.5 748.4 L2025.5 745.7 L2028.5 742.9 L2031.5 740.2 L2034.5 737.5 L2037.5 734.8 L2040.5 732.2 L2043.5 729.6 L2046.5 727.1 L2049.5 724.6 L2052.5 722.1 L2055.5 719.6 L2058.5 717.1 L2061.5 714.7 L2064.5 712.2 L2067.5 709.7 L2070.5 707.1 L2073.5 704.6 L2076.5 702.0 L2079.5 699.5 L2082.5 696.9 L2085.5 694.3 L2088.5 691.7 L2091.5 689.1 L2094.5 686.4 L2097.5 683.8 L2100.5 681.1 L2103.5 678.5 L2106.5 675.8 L2109.5 673.1 L2112.5 670.5 L2115.5 667.8 L2118.5 665.1 L2121.5 662.4 L2124.5 659.7 L2127.5 656.9 L2130.5 654.2 L2133.5 651.5 L2136.5 648.7 L2139.5 646.0 L2142.5 643.2 L2145.5 640.5 L2148.5 637.7 L2151.5 635.0 L2154.5 632.2 L2157.5 629.4 L2160.5 626.6 L2163.5 623.8 L2166.5 621.1 L2169.5 618.3 L2172.5 615.5 L2175.5 612.7 L2178.5 609.9 L2181.5 607.1 L2184.5 604.3 L2187.5 601.5 L2190.5 598.7 L2193.5 595.8 L2196.5 593.0 L2199.5 590.2 L2202.5 587.4 L2205.5 584.6 L2208.5 581.8 L2211.5 579.0 L2214.5 576.1 L2217.5 573.3 L2220.5 570.5 L2223.5 567.7 L2226.5 564.9 L2229.5 562.1 L2232.5 559.3 L2235.5 556.5 L2238.5 553.7 L2241.5 550.9 L2244.5 548.1 L2247.5 545.3 L2250.5 542.5 L2253.5 539.7 L2256.5 536.9 L2259.5 534.1 L2262.5 531.3 L2265.5 528.6 L2268.5 525.8 L2271.5 523.0 L2274.5 520.3 L2277.5 517.5 L2280.5 514.8 L2283.5 512.0 L2286.5 509.3 L2289.5 506.5 L2292.5 503.8 L2295.5 501.1 L2298.5 498.4 L2301.5 495.7 L2304.5 493.0 L2307.5 490.3 L2310.5 487.6 L2313.5 484.9 L2316.5 482.3 L2319.5 479.6 L2322.5 477.0 L2323.5 476.1" fill="none" stroke="#006EE1" stroke-width="15.6" stroke-linejoin="round" stroke-linecap="butt"/>
<g fill="#006EE1"><polygon points="351.5,1447.7 320.7,1500.7 382.3,1500.7"/><polygon points="746.3,1350.0 715.5,1403.0 777.1,1403.0"/><polygon points="1141.7,1207.0 1110.9,1260.0 1172.5,1260.0"/><polygon points="1536.9,1034.6 1506.1,1087.6 1567.7,1087.6"/><polygon points="1931.7,784.6 1900.9,837.6 1962.5,837.6"/><polygon points="2323.5,440.8 2292.7,493.8 2354.3,493.8"/></g>
<path d="M347.0 1521.2 L350.0 1521.2 L353.0 1521.2 L356.0 1521.2 L359.0 1521.1 L362.0 1521.0 L365.0 1520.9 L368.0 1520.7 L371.0 1520.5 L374.0 1520.3 L377.0 1520.1 L380.0 1519.8 L383.0 1519.4 L386.0 1519.1 L389.0 1518.7 L392.0 1518.3 L395.0 1517.9 L398.0 1517.4 L401.0 1516.9 L404.0 1516.4 L407.0 1515.8 L410.0 1515.3 L413.0 1514.7 L416.0 1514.1 L419.0 1513.5 L422.0 1512.8 L425.0 1512.1 L428.0 1511.4 L431.0 1510.7 L434.0 1510.0 L437.0 1509.2 L440.0 1508.5 L443.0 1507.7 L446.0 1506.9 L449.0 1506.1 L452.0 1505.3 L455.0 1504.4 L458.0 1503.6 L461.0 1502.7 L464.0 1501.8 L467.0 1500.9 L470.0 1500.0 L473.0 1499.1 L476.0 1498.2 L479.0 1497.3 L482.0 1496.4 L485.0 1495.4 L488.0 1494.5 L491.0 1493.6 L494.0 1492.6 L497.0 1491.6 L500.0 1490.7 L503.0 1489.7 L506.0 1488.8 L509.0 1487.8 L512.0 1486.8 L515.0 1485.9 L518.0 1484.9 L521.0 1484.0 L524.0 1483.0 L527.0 1482.0 L530.0 1481.1 L533.0 1480.1 L536.0 1479.2 L539.0 1478.2 L542.0 1477.3 L545.0 1476.3 L548.0 1475.4 L551.0 1474.4 L554.0 1473.5 L557.0 1472.6 L560.0 1471.6 L563.0 1470.7 L566.0 1469.7 L569.0 1468.8 L572.0 1467.9 L575.0 1466.9 L578.0 1466.0 L581.0 1465.0 L584.0 1464.1 L587.0 1463.2 L590.0 1462.2 L593.0 1461.3 L596.0 1460.4 L599.0 1459.4 L602.0 1458.5 L605.0 1457.6 L608.0 1456.6 L611.0 1455.7 L614.0 1454.8 L617.0 1453.8 L620.0 1452.9 L623.0 1452.0 L626.0 1451.1 L629.0 1450.1 L632.0 1449.2 L635.0 1448.3 L638.0 1447.3 L641.0 1446.4 L644.0 1445.5 L647.0 1444.6 L650.0 1443.6 L653.0 1442.7 L656.0 1441.8 L659.0 1440.8 L662.0 1439.9 L665.0 1439.0 L668.0 1438.0 L671.0 1437.1 L674.0 1436.2 L677.0 1435.3 L680.0 1434.3 L683.0 1433.4 L686.0 1432.5 L689.0 1431.5 L692.0 1430.6 L695.0 1429.6 L698.0 1428.7 L701.0 1427.8 L704.0 1426.8 L707.0 1425.9 L710.0 1424.9 L713.0 1424.0 L716.0 1423.1 L719.0 1422.1 L722.0 1421.2 L725.0 1420.2 L728.0 1419.3 L731.0 1418.3 L734.0 1417.4 L737.0 1416.4 L740.0 1415.4 L743.0 1414.5 L746.0 1413.5 L749.0 1412.6 L752.0 1411.6 L755.0 1410.6 L758.0 1409.7 L761.0 1408.7 L764.0 1407.7 L767.0 1406.7 L770.0 1405.8 L773.0 1404.8 L776.0 1403.8 L779.0 1402.8 L782.0 1401.8 L785.0 1400.8 L788.0 1399.8 L791.0 1398.9 L794.0 1397.9 L797.0 1396.9 L800.0 1395.8 L803.0 1394.8 L806.0 1393.8 L809.0 1392.8 L812.0 1391.8 L815.0 1390.8 L818.0 1389.8 L821.0 1388.7 L824.0 1387.7 L827.0 1386.7 L830.0 1385.7 L833.0 1384.6 L836.0 1383.6 L839.0 1382.6 L842.0 1381.5 L845.0 1380.5 L848.0 1379.4 L851.0 1378.4 L854.0 1377.3 L857.0 1376.3 L860.0 1375.2 L863.0 1374.2 L866.0 1373.1 L869.0 1372.1 L872.0 1371.0 L875.0 1369.9 L878.0 1368.9 L881.0 1367.8 L884.0 1366.7 L887.0 1365.6 L890.0 1364.6 L893.0 1363.5 L896.0 1362.4 L899.0 1361.3 L902.0 1360.2 L905.0 1359.2 L908.0 1358.1 L911.0 1357.0 L914.0 1355.9 L917.0 1354.8 L920.0 1353.7 L923.0 1352.6 L926.0 1351.5 L929.0 1350.4 L932.0 1349.3 L935.0 1348.2 L938.0 1347.1 L941.0 1346.0 L944.0 1344.9 L947.0 1343.8 L950.0 1342.6 L953.0 1341.5 L956.0 1340.4 L959.0 1339.3 L962.0 1338.2 L965.0 1337.0 L968.0 1335.9 L971.0 1334.8 L974.0 1333.7 L977.0 1332.5 L980.0 1331.4 L983.0 1330.3 L986.0 1329.2 L989.0 1328.0 L992.0 1326.9 L995.0 1325.8 L998.0 1324.6 L1001.0 1323.5 L1004.0 1322.3 L1007.0 1321.2 L1010.0 1320.0 L1013.0 1318.9 L1016.0 1317.8 L1019.0 1316.6 L1022.0 1315.5 L1025.0 1314.3 L1028.0 1313.2 L1031.0 1312.0 L1034.0 1310.9 L1037.0 1309.7 L1040.0 1308.6 L1043.0 1307.4 L1046.0 1306.2 L1049.0 1305.1 L1052.0 1303.9 L1055.0 1302.8 L1058.0 1301.6 L1061.0 1300.4 L1064.0 1299.3 L1067.0 1298.1 L1070.0 1297.0 L1073.0 1295.8 L1076.0 1294.6 L1079.0 1293.5 L1082.0 1292.3 L1085.0 1291.1 L1088.0 1290.0 L1091.0 1288.8 L1094.0 1287.6 L1097.0 1286.4 L1100.0 1285.3 L1103.0 1284.1 L1106.0 1282.9 L1109.0 1281.8 L1112.0 1280.6 L1115.0 1279.4 L1118.0 1278.2 L1121.0 1277.1 L1124.0 1275.9 L1127.0 1274.7 L1130.0 1273.5 L1133.0 1272.3 L1136.0 1271.1 L1139.0 1270.0 L1142.0 1268.8 L1145.0 1267.6 L1148.0 1266.4 L1151.0 1265.2 L1154.0 1264.0 L1157.0 1262.8 L1160.0 1261.6 L1163.0 1260.4 L1166.0 1259.3 L1169.0 1258.1 L1172.0 1256.9 L1175.0 1255.7 L1178.0 1254.5 L1181.0 1253.2 L1184.0 1252.0 L1187.0 1250.8 L1190.0 1249.6 L1193.0 1248.4 L1196.0 1247.2 L1199.0 1246.0 L1202.0 1244.8 L1205.0 1243.6 L1208.0 1242.3 L1211.0 1241.1 L1214.0 1239.9 L1217.0 1238.7 L1220.0 1237.4 L1223.0 1236.2 L1226.0 1235.0 L1229.0 1233.8 L1232.0 1232.5 L1235.0 1231.3 L1238.0 1230.0 L1241.0 1228.8 L1244.0 1227.6 L1247.0 1226.3 L1250.0 1225.1 L1253.0 1223.8 L1256.0 1222.6 L1259.0 1221.3 L1262.0 1220.1 L1265.0 1218.8 L1268.0 1217.5 L1271.0 1216.3 L1274.0 1215.0 L1277.0 1213.7 L1280.0 1212.5 L1283.0 1211.2 L1286.0 1209.9 L1289.0 1208.6 L1292.0 1207.3 L1295.0 1206.1 L1298.0 1204.8 L1301.0 1203.5 L1304.0 1202.2 L1307.0 1200.9 L1310.0 1199.6 L1313.0 1198.3 L1316.0 1197.0 L1319.0 1195.7 L1322.0 1194.4 L1325.0 1193.1 L1328.0 1191.7 L1331.0 1190.4 L1334.0 1189.1 L1337.0 1187.8 L1340.0 1186.4 L1343.0 1185.1 L1346.0 1183.8 L1349.0 1182.4 L1352.0 1181.1 L1355.0 1179.7 L1358.0 1178.4 L1361.0 1177.0 L1364.0 1175.7 L1367.0 1174.3 L1370.0 1173.0 L1373.0 1171.6 L1376.0 1170.2 L1379.0 1168.9 L1382.0 1167.5 L1385.0 1166.1 L1388.0 1164.7 L1391.0 1163.3 L1394.0 1161.9 L1397.0 1160.6 L1400.0 1159.2 L1403.0 1157.8 L1406.0 1156.3 L1409.0 1154.9 L1412.0 1153.5 L1415.0 1152.1 L1418.0 1150.7 L1421.0 1149.3 L1424.0 1147.8 L1427.0 1146.4 L1430.0 1145.0 L1433.0 1143.5 L1436.0 1142.1 L1439.0 1140.6 L1442.0 1139.2 L1445.0 1137.7 L1448.0 1136.3 L1451.0 1134.8 L1454.0 1133.3 L1457.0 1131.8 L1460.0 1130.4 L1463.0 1128.9 L1466.0 1127.4 L1469.0 1125.9 L1472.0 1124.4 L1475.0 1122.9 L1478.0 1121.4 L1481.0 1119.9 L1484.0 1118.4 L1487.0 1116.9 L1490.0 1115.3 L1493.0 1113.8 L1496.0 1112.3 L1499.0 1110.8 L1502.0 1109.2 L1505.0 1107.7 L1508.0 1106.1 L1511.0 1104.6 L1514.0 1103.0 L1517.0 1101.4 L1520.0 1099.9 L1523.0 1098.3 L1526.0 1096.7 L1529.0 1095.2 L1532.0 1093.6 L1535.0 1092.0 L1538.0 1090.4 L1541.0 1088.8 L1544.0 1087.2 L1547.0 1085.6 L1550.0 1083.9 L1553.0 1082.3 L1556.0 1080.7 L1559.0 1079.1 L1562.0 1077.4 L1565.0 1075.8 L1568.0 1074.2 L1571.0 1072.5 L1574.0 1070.9 L1577.0 1069.2 L1580.0 1067.6 L1583.0 1065.9 L1586.0 1064.2 L1589.0 1062.5 L1592.0 1060.9 L1595.0 1059.2 L1598.0 1057.5 L1601.0 1055.8 L1604.0 1054.1 L1607.0 1052.4 L1610.0 1050.7 L1613.0 1049.0 L1616.0 1047.3 L1619.0 1045.6 L1622.0 1043.9 L1625.0 1042.1 L1628.0 1040.4 L1631.0 1038.7 L1634.0 1036.9 L1637.0 1035.2 L1640.0 1033.4 L1643.0 1031.7 L1646.0 1029.9 L1649.0 1028.2 L1652.0 1026.4 L1655.0 1024.6 L1658.0 1022.8 L1661.0 1021.1 L1664.0 1019.3 L1667.0 1017.5 L1670.0 1015.7 L1673.0 1013.9 L1676.0 1012.1 L1679.0 1010.3 L1682.0 1008.5 L1685.0 1006.6 L1688.0 1004.8 L1691.0 1003.0 L1694.0 1001.2 L1697.0 999.3 L1700.0 997.5 L1703.0 995.6 L1706.0 993.8 L1709.0 991.9 L1712.0 990.1 L1715.0 988.2 L1718.0 986.4 L1721.0 984.5 L1724.0 982.6 L1727.0 980.7 L1730.0 978.8 L1733.0 976.9 L1736.0 975.1 L1739.0 973.2 L1742.0 971.3 L1745.0 969.4 L1748.0 967.4 L1751.0 965.5 L1754.0 963.6 L1757.0 961.7 L1760.0 959.8 L1763.0 957.8 L1766.0 955.9 L1769.0 954.0 L1772.0 952.0 L1775.0 950.1 L1778.0 948.2 L1781.0 946.2 L1784.0 944.3 L1787.0 942.3 L1790.0 940.4 L1793.0 938.4 L1796.0 936.4 L1799.0 934.5 L1802.0 932.5 L1805.0 930.6 L1808.0 928.6 L1811.0 926.6 L1814.0 924.6 L1817.0 922.7 L1820.0 920.7 L1823.0 918.7 L1826.0 916.7 L1829.0 914.7 L1832.0 912.8 L1835.0 910.8 L1838.0 908.8 L1841.0 906.8 L1844.0 904.8 L1847.0 902.8 L1850.0 900.8 L1853.0 898.8 L1856.0 896.8 L1859.0 894.8 L1862.0 892.8 L1865.0 890.8 L1868.0 888.8 L1871.0 886.8 L1874.0 884.7 L1877.0 882.7 L1880.0 880.7 L1883.0 878.7 L1886.0 876.6 L1889.0 874.6 L1892.0 872.5 L1895.0 870.5 L1898.0 868.4 L1901.0 866.4 L1904.0 864.3 L1907.0 862.2 L1910.0 860.1 L1913.0 858.1 L1916.0 856.0 L1919.0 853.9 L1922.0 851.8 L1925.0 849.7 L1928.0 847.5 L1931.0 845.4 L1934.0 843.3 L1937.0 841.1 L1940.0 839.0 L1943.0 836.8 L1946.0 834.7 L1949.0 832.5 L1952.0 830.3 L1955.0 828.1 L1958.0 825.9 L1961.0 823.7 L1964.0 821.5 L1967.0 819.2 L1970.0 817.0 L1973.0 814.7 L1976.0 812.5 L1979.0 810.2 L1982.0 807.9 L1985.0 805.6 L1988.0 803.3 L1991.0 801.0 L1994.0 798.7 L1997.0 796.4 L2000.0 794.0 L2003.0 791.7 L2006.0 789.3 L2009.0 786.9 L2012.0 784.5 L2015.0 782.2 L2018.0 779.8 L2021.0 777.4 L2024.0 774.9 L2027.0 772.5 L2030.0 770.1 L2033.0 767.7 L2036.0 765.2 L2039.0 762.8 L2042.0 760.4 L2045.0 757.9 L2048.0 755.5 L2051.0 753.0 L2054.0 750.5 L2057.0 748.1 L2060.0 745.6 L2063.0 743.1 L2066.0 740.6 L2069.0 738.2 L2072.0 735.7 L2075.0 733.2 L2078.0 730.7 L2081.0 728.2 L2084.0 725.7 L2087.0 723.2 L2090.0 720.7 L2093.0 718.2 L2096.0 715.7 L2099.0 713.2 L2102.0 710.7 L2105.0 708.2 L2108.0 705.7 L2111.0 703.2 L2114.0 700.7 L2117.0 698.2 L2120.0 695.7 L2123.0 693.1 L2126.0 690.6 L2129.0 688.1 L2132.0 685.6 L2135.0 683.0 L2138.0 680.5 L2141.0 678.0 L2144.0 675.5 L2147.0 672.9 L2150.0 670.4 L2153.0 667.9 L2156.0 665.3 L2159.0 662.8 L2162.0 660.2 L2165.0 657.7 L2168.0 655.1 L2171.0 652.6 L2174.0 650.0 L2177.0 647.5 L2180.0 644.9 L2183.0 642.4 L2186.0 639.8 L2189.0 637.3 L2192.0 634.7 L2195.0 632.2 L2198.0 629.6 L2201.0 627.0 L2204.0 624.5 L2207.0 621.9 L2210.0 619.3 L2213.0 616.7 L2216.0 614.2 L2219.0 611.6 L2222.0 609.0 L2225.0 606.4 L2228.0 603.8 L2231.0 601.3 L2234.0 598.7 L2237.0 596.1 L2240.0 593.5 L2243.0 590.9 L2246.0 588.3 L2249.0 585.7 L2252.0 583.1 L2255.0 580.5 L2258.0 577.9 L2261.0 575.3 L2264.0 572.7 L2267.0 570.1 L2270.0 567.5 L2273.0 564.9 L2276.0 562.3 L2279.0 559.7 L2282.0 557.1 L2285.0 554.4 L2288.0 551.8 L2291.0 549.2 L2294.0 546.6 L2297.0 544.0 L2300.0 541.3 L2303.0 538.7 L2306.0 536.1 L2309.0 533.5 L2312.0 530.8 L2315.0 528.2 L2318.0 525.6 L2321.0 522.9 L2323.5 520.7" fill="none" stroke="#00AE68" stroke-width="15.6" stroke-linejoin="round" stroke-linecap="butt"/>
<g fill="#00AE68"><polygon points="347.0,1554.0 316.2,1501.0 377.8,1501.0"/><polygon points="742.5,1450.0 711.7,1397.0 773.3,1397.0"/><polygon points="1137.6,1306.2 1106.8,1253.2 1168.4,1253.2"/><polygon points="1533.1,1127.2 1502.3,1074.2 1563.9,1074.2"/><polygon points="1928.2,881.0 1897.4,828.0 1959.0,828.0"/><polygon points="2323.2,556.1 2292.4,503.1 2354.0,503.1"/></g>
</g>
<text class="tk" x="719.36" y="1757"><tspan textLength="47.47" lengthAdjust="spacingAndGlyphs">0</tspan></text>
<text class="tk" x="1091.96" y="1757"><tspan textLength="47.47" lengthAdjust="spacingAndGlyphs">5</tspan><tspan dx="-2.47" textLength="47.47" lengthAdjust="spacingAndGlyphs">0</tspan></text>
<text class="tk" x="1464.56" y="1757"><tspan textLength="47.47" lengthAdjust="spacingAndGlyphs">1</tspan><tspan dx="-2.47" textLength="47.47" lengthAdjust="spacingAndGlyphs">0</tspan><tspan dx="-2.47" textLength="47.47" lengthAdjust="spacingAndGlyphs">0</tspan></text>
<text class="tk" x="1859.66" y="1757"><tspan textLength="47.47" lengthAdjust="spacingAndGlyphs">1</tspan><tspan dx="-2.47" textLength="47.47" lengthAdjust="spacingAndGlyphs">5</tspan><tspan dx="-2.47" textLength="47.47" lengthAdjust="spacingAndGlyphs">0</tspan></text>
<text class="tk" x="2254.76" y="1757"><tspan textLength="47.47" lengthAdjust="spacingAndGlyphs">2</tspan><tspan dx="-2.47" textLength="47.47" lengthAdjust="spacingAndGlyphs">0</tspan><tspan dx="-2.47" textLength="47.47" lengthAdjust="spacingAndGlyphs">0</tspan></text>
<text class="tk" x="272.1" y="1757"><tspan textLength="60.2" lengthAdjust="spacingAndGlyphs">−</tspan><tspan dx="-5.54" textLength="47.47" lengthAdjust="spacingAndGlyphs">5</tspan><tspan dx="-2.47" textLength="47.47" lengthAdjust="spacingAndGlyphs">0</tspan></text>
<text class="tk" x="249.26" y="1136"><tspan textLength="47.47" lengthAdjust="spacingAndGlyphs">0</tspan></text>
<text class="tk" x="204.26" y="610"><tspan textLength="47.47" lengthAdjust="spacingAndGlyphs">4</tspan><tspan dx="-2.47" textLength="47.47" lengthAdjust="spacingAndGlyphs">0</tspan></text>
<text class="tk" x="204.26" y="84"><tspan textLength="47.47" lengthAdjust="spacingAndGlyphs">8</tspan><tspan dx="-2.47" textLength="47.47" lengthAdjust="spacingAndGlyphs">0</tspan></text>
<text class="tk" x="148.3" y="1662"><tspan textLength="60.2" lengthAdjust="spacingAndGlyphs">−</tspan><tspan dx="-4.04" textLength="47.47" lengthAdjust="spacingAndGlyphs">4</tspan><tspan dx="-2.47" textLength="47.47" lengthAdjust="spacingAndGlyphs">0</tspan></text>
<text class="ti" x="934.0" y="1919" style="letter-spacing:-0.72px">Temperature (°C)</text>
<text class="ti" transform="translate(113.1,1387.8) rotate(-90)" style="letter-spacing:-0.9px">Dimension Change (μm)</text>
<rect x="379" y="96" width="428" height="419" fill="#fff"/>
<path d="M379 96H807V515H379Z M381 99V512H804V99Z" fill="#000" fill-rule="evenodd"/>
<path d="M576 147 H389 Q383 147 383 153 V156 Q383 162 389 162 H576 Z" fill="#757575"/>
<g fill="#757575"><rect x="460" y="131" width="47" height="46"/></g>
<text class="lg" x="595.5" y="183.0" style="letter-spacing:0.25px">Blank</text>
<path d="M576 248 H389 Q383 248 383 254 V258 Q383 264 389 264 H576 Z" fill="#FF3F3F"/>
<g fill="#FF3F3F"><circle cx="483.5" cy="255.4" r="26.5"/></g>
<text class="lg" x="593.6" y="283.6" style="letter-spacing:2.50px">NSP</text>
<path d="M576 348 H389 Q383 348 383 354 V358 Q383 364 389 364 H576 Z" fill="#006EE1"/>
<g fill="#006EE1"><polygon points="483.5,320.7 452.7,373.7 514.3,373.7"/></g>
<text class="lg" x="595.5" y="384.2" style="letter-spacing:1.50px">CSR</text>
<path d="M576 449 H389 Q383 449 383 455 V459 Q383 465 389 465 H576 Z" fill="#00AE68"/>
<g fill="#00AE68"><polygon points="483.5,492.3 452.7,439.3 514.3,439.3"/></g>
<text class="lg" x="595.7" y="484.9" style="letter-spacing:0.20px">EPB</text>
</svg></body></html>
